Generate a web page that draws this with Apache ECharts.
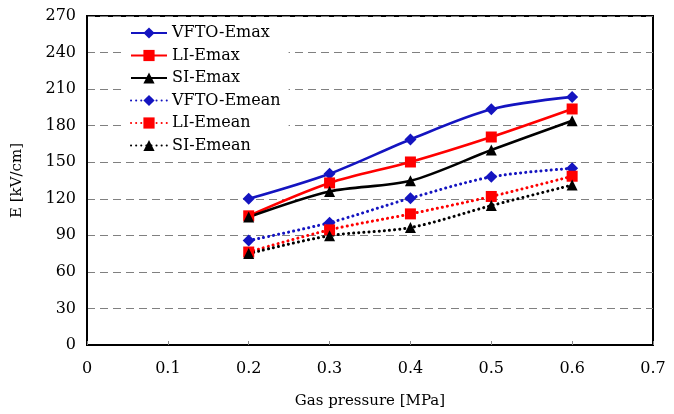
<!DOCTYPE html>
<html><head><meta charset="utf-8">
<script src="https://cdn.jsdelivr.net/npm/echarts@6/dist/echarts.min.js"></script>
<style>html,body{margin:0;padding:0;background:#fff}#c{width:674px;height:414px}</style>
</head><body><div id="c"></div>
<script>
const pressure = [0.2, 0.3, 0.4, 0.5, 0.6];
const vftoEmax = [120, 140.6, 168.7, 193.4, 203.6];
const liEmax = [106, 133, 150.2, 170.7, 193.7];
const siEmax = [105, 126, 134.7, 160, 184];
const vftoEmean = [85.7, 100.4, 120.5, 138, 145];
const liEmean = [76.3, 94.5, 107.6, 121.9, 138.5];
const siEmean = [75, 89.7, 96.4, 114.4, 131.3];
const xTicks = {min: 0, max: 0.7, interval: 0.1};
const yTicks = {min: 0, max: 270, interval: 30};

const font = '"DejaVu Serif", "Liberation Serif", serif';
const blue = '#1414c0', red = '#ff0000', black = '#000000';
function pts(v){ return pressure.map((p,i)=>[p, v[i]]); }
function ser(name, data, color, symbol, solid, size){
  return {
    name, type: 'line', data: pts(data), smooth: 0.3,
    symbol, symbolSize: size,
    lineStyle: solid ? {color, width: 2.6, type: 'solid'} : {color, width: 3, type: [0.1, 5], cap: 'round'},
    itemStyle: {color},
    emphasis: {disabled: true}
  };
}
const chart = echarts.init(document.getElementById('c'), null, {renderer: 'canvas'});
chart.setOption({
  animation: false,
  backgroundColor: '#fff',
  textStyle: {fontFamily: font},
  grid: {left: 87, right: 21, top: 16, bottom: 63, show: true, borderColor: '#000', borderWidth: 2, backgroundColor: 'transparent'},
  xAxis: {
    type: 'value', min: xTicks.min, max: xTicks.max, interval: xTicks.interval,
    name: 'Gas pressure [MPa]', nameLocation: 'middle', nameGap: 49,
    nameTextStyle: {fontFamily: font, fontSize: 15, color: '#000'},
    axisLine: {show: true, lineStyle: {color: '#000', width: 2}},
    axisTick: {show: true, inside: true, length: 4, lineStyle: {color: '#888'}},
    axisLabel: {fontFamily: font, fontSize: 16, color: '#000', margin: 16},
    splitLine: {show: false}
  },
  yAxis: {
    type: 'value', min: yTicks.min, max: yTicks.max, interval: yTicks.interval,
    name: 'E [kV/cm]', nameLocation: 'middle', nameGap: 62, nameRotate: 90,
    nameTextStyle: {fontFamily: font, fontSize: 15, color: '#000'},
    axisLine: {show: true, lineStyle: {color: '#000', width: 2}},
    axisTick: {show: false},
    axisLabel: {fontFamily: font, fontSize: 16, color: '#000', margin: 11},
    splitLine: {show: true, lineStyle: {color: '#808080', width: 1, type: [8,5]}}
  },
  legend: {
    orient: 'vertical', left: 126, top: 22, itemGap: 6.5, itemWidth: 36, itemHeight: 14,
    backgroundColor: '#fff', padding: [3, 8, 3, 4],
    textStyle: {fontFamily: font, fontSize: 16, color: '#000', lineHeight: 14},
    data: ['VFTO-Emax','LI-Emax','SI-Emax','VFTO-Emean','LI-Emean','SI-Emean']
  },
  series: [
    ser('VFTO-Emax', vftoEmax, blue, 'diamond', true, 12),
    ser('LI-Emax', liEmax, red, 'rect', true, 11),
    ser('SI-Emax', siEmax, black, 'triangle', true, 11),
    ser('VFTO-Emean', vftoEmean, blue, 'diamond', false, 12),
    ser('LI-Emean', liEmean, red, 'rect', false, 11),
    ser('SI-Emean', siEmean, black, 'triangle', false, 11)
  ]
});
</script></body></html>
